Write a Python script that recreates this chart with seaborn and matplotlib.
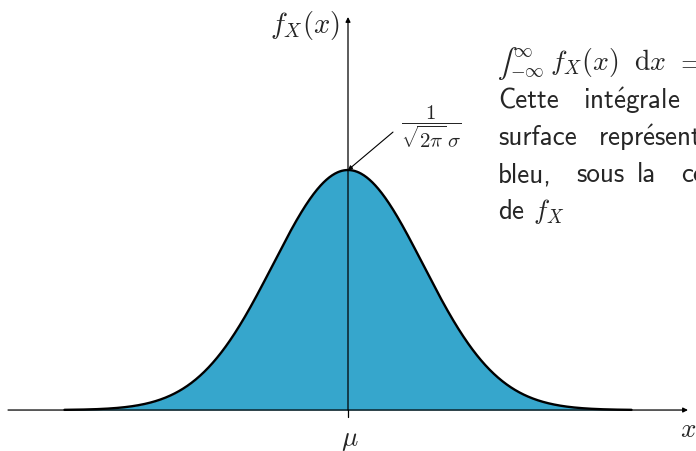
import numpy as np
import pandas as pd
import matplotlib
matplotlib.use("Agg")
import matplotlib.pyplot as plt
import seaborn as sns

# Normal density parameters and plotted span (in units of sigma)
mu = 0.0
sigma = 1.0
span = (-3.78, 3.78)

sns.set_theme(style="white")
plt.rcParams["mathtext.fontset"] = "cm"
plt.rcParams["font.family"] = ["cmss10", "DejaVu Sans"]
plt.rcParams["axes.unicode_minus"] = False

x = np.linspace(mu + span[0] * sigma, mu + span[1] * sigma, 800)
pdf = np.exp(-0.5 * ((x - mu) / sigma) ** 2) / (np.sqrt(2 * np.pi) * sigma)
df = pd.DataFrame({"x": x, "f": pdf})
peak = 1 / (np.sqrt(2 * np.pi) * sigma)

W, H = 696, 452
fig = plt.figure(figsize=(W / 100, H / 100), dpi=100)
ax = fig.add_axes([0, 0, 1, 1])
ax.set_xlim(-4.64, 4.64)
ax.set_ylim(-0.0681, 0.6832)
ax.axis("off")

ax.fill_between(df["x"], 0, df["f"], color="#36a6cc", lw=0, zorder=1)
sns.lineplot(data=df, x="x", y="f", ax=ax, color="black", lw=1.7, zorder=3)

# coordinate axes with arrow heads
arrow = dict(arrowstyle="-|>", color="black", lw=0.9, mutation_scale=7,
             shrinkA=0, shrinkB=0)
ax.annotate("", xy=(4.533, 0), xytext=(-4.533, 0), arrowprops=arrow, zorder=4)
ax.annotate("", xy=(mu, 0.6533), xytext=(mu, 0), arrowprops=arrow, zorder=4)
ax.plot([mu, mu], [0, -0.0116], color="black", lw=0.9)

ax.text(-0.58, 0.6416, r"$f_X(x)$", fontsize=20.5, ha="center", va="center")
ax.text(mu + 0.027, -0.0482, r"$\mu$", fontsize=19.5, ha="center", va="center")
ax.text(4.533, -0.0299, r"$x$", fontsize=19.5, ha="center", va="center")

# peak value label
ax.text(1.107, 0.472, r"$\dfrac{1}{\sqrt{2\pi}\,\sigma}$", fontsize=15,
        ha="center", va="center")
ax.annotate("", xy=(mu, peak), xytext=(0.6, 0.462),
            arrowprops=dict(arrowstyle="-|>", color="black", lw=0.8,
                            mutation_scale=6, shrinkA=0, shrinkB=0))


def put(px, py, s, size=19.5, **kw):
    fig.text(px / W, 1 - py / H, s, fontsize=size, ha="left", va="center", **kw)


# integral of the density, set inline
put(497, 64, "\u222b", size=21, family="STIXGeneral")
put(513, 52, r"$\infty$", size=13.5)
put(510, 72, r"$-\infty$", size=13.5)
put(550, 63, r"$f_X(x)$", size=20)
put(634, 63, r"$\mathrm{d}x$", size=20)
put(676, 63, r"$=$", size=20)

put(498, 101, "Cette")
put(583, 101, r"$\mathsf{int\acute{e}grale}$")
put(498, 138, "surface")
put(598, 138, r"$\mathsf{repr\acute{e}sent\acute{e}e}$")
put(498, 175, "bleu,")
put(576, 175, "sous")
put(637, 175, "la")
put(681, 175, "courbe")
put(498, 212, r"de $f_X$")

fig.savefig("out.png", dpi=100)
